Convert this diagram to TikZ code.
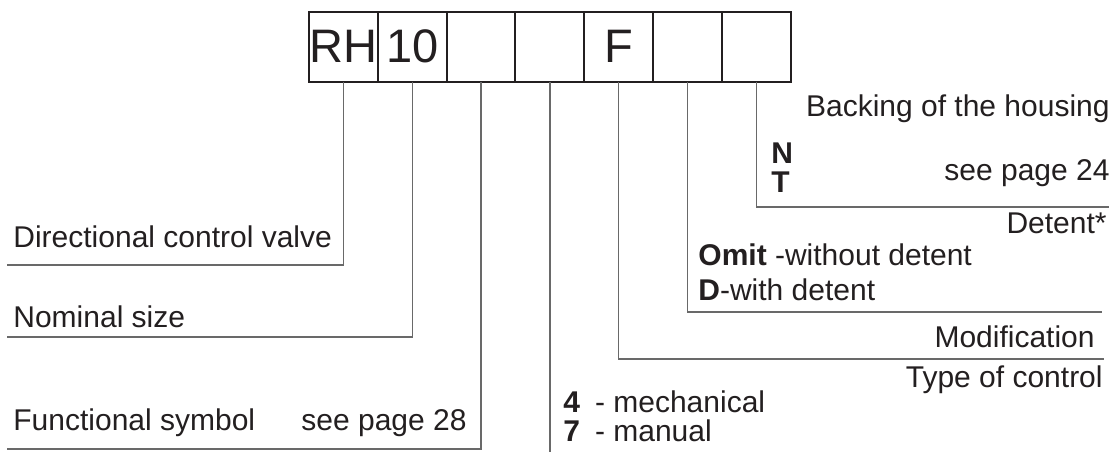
\documentclass[tikz,border=0pt]{standalone}
\usepackage{fontspec}
\setmainfont{Liberation Sans}
\usetikzlibrary{positioning}
\definecolor{ink}{RGB}{35,31,32}
\definecolor{leadgrey}{RGB}{105,105,105}

\begin{document}
\begin{tikzpicture}[
  x=0.5pt, y=-0.5pt,
  font=\fontsize{15}{18}\selectfont, text=ink,
  cell/.style={draw=ink, line width=1pt, minimum width=34.4pt, minimum height=34.75pt, inner sep=0pt, outer sep=0pt, font=\fontsize{23.5}{28}\selectfont},
  lead/.style={draw=leadgrey, line width=0.7pt},
  lbl/.style={inner sep=0pt, anchor=base west},
  rlbl/.style={inner sep=0pt, anchor=base east}
]
\useasboundingbox (0,0) rectangle (1118,455);
% type code boxes
\node[cell] (c1) at (343.4,46.8) {RH};
\node[cell, right=0pt of c1] (c2) {10};
\node[cell, right=0pt of c2] (c3) {};
\node[cell, right=0pt of c3] (c4) {};
\node[cell, right=0pt of c4] (c5) {F};
\node[cell, right=0pt of c5] (c6) {};
\node[cell, right=0pt of c6] (c7) {};

% leader ends
\coordinate (e1) at (7,265);
\coordinate (e2) at (7,337);
\coordinate (e3) at (7,449);
\coordinate (e4) at (c4.south |- 0,452);
\coordinate (e5) at (1104,359);
\coordinate (e6) at (1102,312);
\coordinate (e7) at (1109,207);

\draw[lead] (c1.south) |- (e1);
\draw[lead] (c2.south) |- (e2);
\draw[lead] (c3.south) |- (e3);
\draw[lead] (c4.south) -- (e4);
\draw[lead] (c5.south) |- (e5);
\draw[lead] (c6.south) |- (e6);
\draw[lead] (c7.south) |- (e7);

% left labels
\node[lbl] (dcv) at (13,247) {Directional control valve};
\node[lbl] (ns) at (13,327) {Nominal size};
\node[lbl] (fs) at (13,430) {Functional symbol};
\node[rlbl] (fsp) at (467,430) {see page 28};

% type of control
\node[lbl] (mech) at (563,412) {\textbf{4}\enspace- mechanical};
\node[lbl] (man) at (563,441) {\textbf{7}\enspace- manual};
\node[rlbl] (toc) at (1103,387) {Type of control};

% modification, detent, backing
\node[rlbl] (mod) at (1095,347) {Modification};
\node[lbl] (omit) at (698,265) {\textbf{Omit} -without detent};
\node[lbl] (det) at (698,300) {\textbf{D}-with detent};
\node[rlbl] (dt) at (1107,233) {Detent*};
\node[lbl] (bn) at (771,163) {\textbf{N}};
\node[lbl] (bt) at (771,192) {\textbf{T}};
\node[rlbl] (bsp) at (1110,180) {see page 24};
\node[rlbl] (bh) at (1110,116) {Backing of the housing};
\end{tikzpicture}
\end{document}
